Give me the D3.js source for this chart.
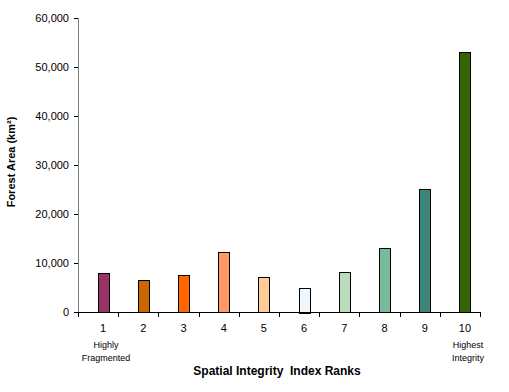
<!DOCTYPE html>
<html>
<head>
<meta charset="utf-8">
<script src="https://cdn.jsdelivr.net/npm/d3@7"></script>
<style>
  html, body { margin: 0; padding: 0; background: #fff; }
  svg { display: block; font-family: 'Liberation Sans', Arial, sans-serif; }
</style>
</head>
<body>
<div id="chart"></div>
<script>
  var ranks = ['1', '2', '3', '4', '5', '6', '7', '8', '9', '10'];
  var forestArea = [8000, 6500, 7500, 12200, 7100, 5000, 8100, 13000, 25000, 53000];
  var barColors = ['#993366', '#cc6600', '#ff6600', '#ff9966', '#ffcc99',
                   '#f0f8ff', '#b9ddbb', '#77bb99', '#3d8577', '#336600'];
  var yTicks = [0, 10000, 20000, 30000, 40000, 50000, 60000];
  var subLabels = { '1': ['Highly', 'Fragmented'], '10': ['Highest', 'Integrity'] };

  function drawChart() {
    var W = 509, H = 392;
    var plotLeft = 78, plotRight = 480, plotTop = 18, plotBottom = 312;

    var svg = d3.select('#chart').append('svg')
      .attr('width', W).attr('height', H);

    var x = d3.scaleBand().domain(ranks).range([plotLeft, plotRight]);
    var y = d3.scaleLinear().domain([0, 60000]).range([plotBottom, plotTop]);
    var shift = 5; // bars and labels sit a little right of the band centre

    // y axis
    var yAxis = svg.append('g')
      .attr('transform', 'translate(' + plotLeft + ',0)')
      .call(d3.axisLeft(y).tickValues(yTicks).tickSize(4).tickPadding(5)
        .tickFormat(d3.format(',')));
    yAxis.select('.domain').attr('stroke', '#808080')
      .attr('d', 'M0.5,' + plotTop + 'V' + plotBottom);
    yAxis.selectAll('.tick line').attr('stroke', '#000');
    yAxis.selectAll('text').style('font-size', '11px').attr('fill', '#000');

    // bars
    var data = ranks.map(function (r, i) {
      return { rank: r, value: forestArea[i], color: barColors[i] };
    });
    var bw = 11;
    svg.selectAll('.bar')
      .data(data)
      .enter()
      .append('rect')
      .attr('class', 'bar')
      .attr('x', function (d) { return Math.round(x(d.rank) + x.bandwidth() / 2 + shift - bw / 2) + 0.5; })
      .attr('y', function (d) { return Math.round(y(d.value)) + 0.5; })
      .attr('width', bw)
      .attr('height', function (d) { return Math.round(plotBottom - y(d.value)); })
      .attr('fill', function (d) { return d.color; })
      .attr('stroke', '#000')
      .attr('stroke-width', 1);

    // x axis
    var xAxis = svg.append('g').attr('transform', 'translate(0,' + plotBottom + ')');
    xAxis.append('line')
      .attr('x1', plotLeft).attr('x2', plotRight).attr('y1', 0.5).attr('y2', 0.5)
      .attr('stroke', '#000');
    xAxis.selectAll('.xtick')
      .data(ranks.concat(['end']))
      .enter()
      .append('line')
      .attr('x1', function (d) { return Math.round(d === 'end' ? plotRight : x(d)) + 0.5; })
      .attr('x2', function (d) { return Math.round(d === 'end' ? plotRight : x(d)) + 0.5; })
      .attr('y1', 0).attr('y2', 5)
      .attr('stroke', '#000');

    svg.selectAll('.xlab')
      .data(ranks)
      .enter()
      .append('text')
      .attr('x', function (d) { return x(d) + x.bandwidth() / 2 + shift; })
      .attr('y', 332)
      .attr('text-anchor', 'middle')
      .style('font-size', '11px')
      .text(function (d) { return d; });

    Object.keys(subLabels).forEach(function (r) {
      subLabels[r].forEach(function (t, i) {
        svg.append('text')
          .attr('x', x(r) + x.bandwidth() / 2 + shift + 3)
          .attr('y', 348 + i * 13)
          .attr('text-anchor', 'middle')
          .style('font-size', '9px')
          .text(t);
      });
    });

    // axis titles
    svg.append('text')
      .attr('x', 277).attr('y', 375)
      .attr('text-anchor', 'middle')
      .style('font-size', '12px').style('font-weight', 'bold')
      .style('white-space', 'pre')
      .text('Spatial Integrity  Index Ranks');

    svg.append('text')
      .attr('transform', 'translate(15,162) rotate(-90)')
      .attr('text-anchor', 'middle')
      .style('font-size', '11px').style('font-weight', 'bold')
      .text('Forest Area (km²)');
  }

  drawChart();
</script>
</body>
</html>
